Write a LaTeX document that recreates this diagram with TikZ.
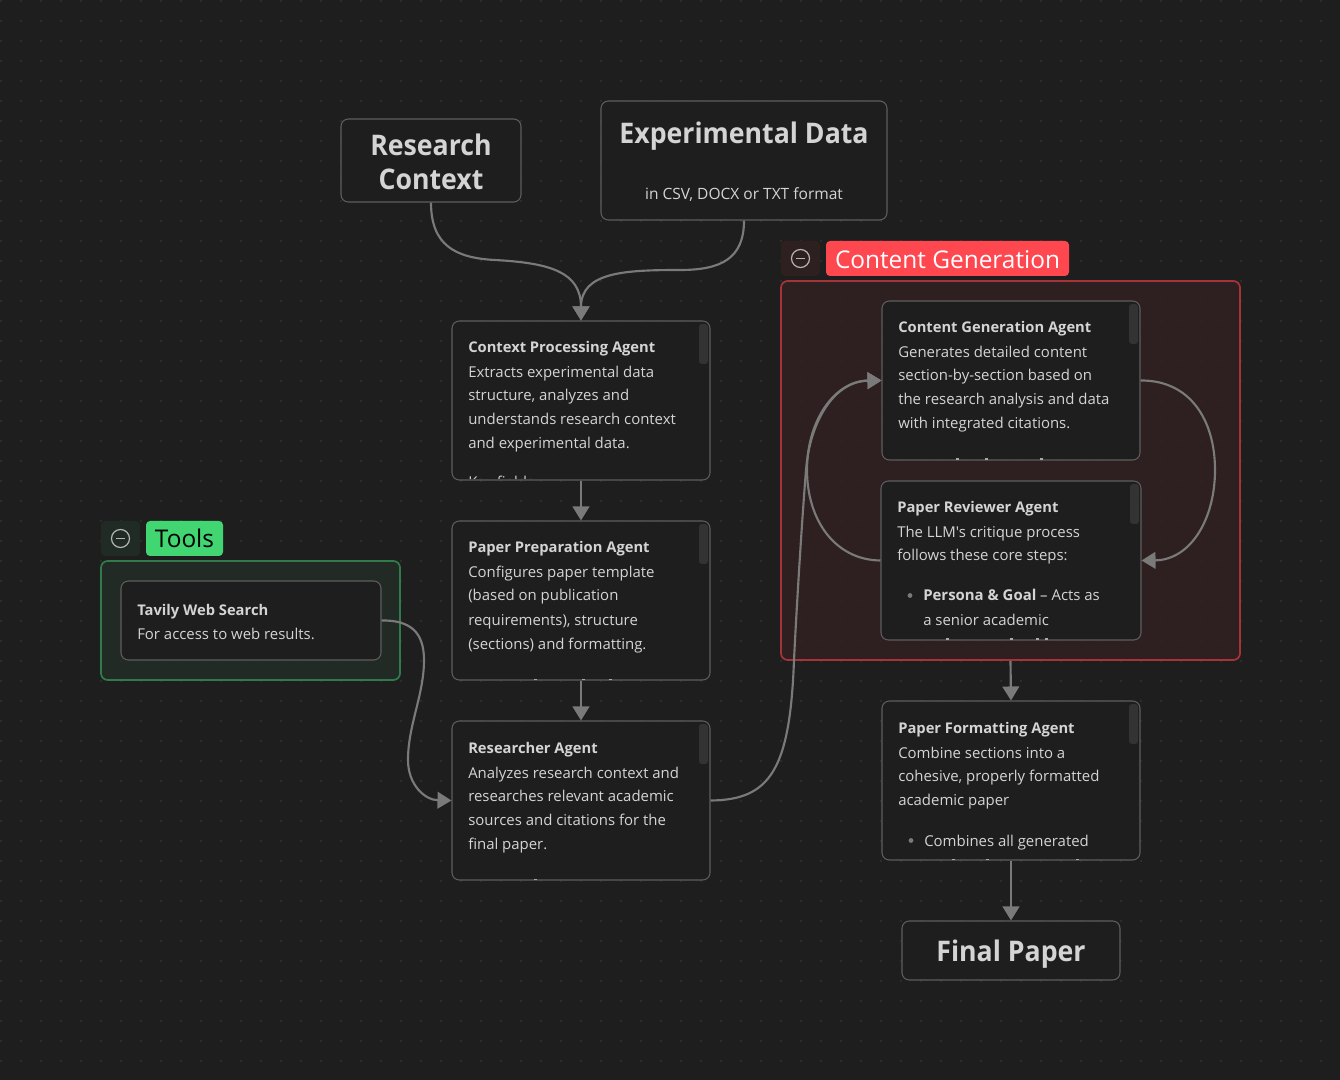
\documentclass[tikz,border=0pt]{standalone}
\usepackage{fontspec}
\setmainfont{Open Sans}[Ligatures=TeXOff]
\newfontfamily\bigfam{Open Sans}[FakeStretch=0.94,Ligatures=TeXOff]
\usetikzlibrary{arrows.meta}
\definecolor{bgc}{HTML}{1E1E1E}
\definecolor{dotc}{HTML}{3C3C3C}
\definecolor{boxline}{HTML}{5E5E5E}
\definecolor{txt}{HTML}{D4D4D4}
\definecolor{edge}{HTML}{7A7A7A}
\definecolor{scrollc}{HTML}{333333}
\definecolor{redfill}{HTML}{332121}
\definecolor{redline}{HTML}{A5343A}
\definecolor{redlab}{HTML}{FF474F}
\definecolor{redicon}{HTML}{2F2020}
\definecolor{greenfill}{HTML}{222E27}
\definecolor{greenline}{HTML}{317A49}
\definecolor{greenlab}{HTML}{41D671}
\definecolor{greenicon}{HTML}{212B25}
\newcommand{\bodyfont}{\fontsize{11.2pt}{14pt}\selectfont}
\newcommand{\titlefont}{\fontsize{11.05pt}{14pt}\selectfont\bfseries}
\newcommand{\bigfont}{\bigfam\fontsize{21.3pt}{25.5pt}\selectfont\bfseries}
\newcommand{\agent}[5]{%
  % #1 name, #2 x left, #3 y top, #4 x right, #5 y bottom
  \node[boxnode, minimum width={(#4-#2)*0.75pt}, minimum height={(#5-#3)*0.75pt}] (#1) at ({(#2+#4)/2},{(#3+#5)/2}) {};
  \fill[scrollc, rounded corners=2.2pt] ({#4-11},{#3+3}) rectangle ({#4-2},{#3+43});
}
\newcommand{\ticks}[2]{\foreach \t in {#2}{\fill[txt!80!black] ({\t-1.5},{#1-1.5}) rectangle ({\t+1.5},{#1+0.2});}}
\tikzset{
  x=0.75pt, y=-0.75pt,
  boxnode/.style={draw=boxline, fill=bgc, line width=0.8pt, rounded corners=5.5pt, inner sep=0pt},
  titlenode/.style={anchor=base west, inner sep=0pt, text=txt, font=\titlefont},
  linenode/.style={anchor=base west, inner sep=0pt, text=txt, font=\bodyfont},
  bignode/.style={inner sep=0pt, text=txt, align=center, font=\bigfont},
  conn/.style={draw=edge, line width=1.6pt},
  arrowconn/.style={conn, -{Triangle[length=10.5pt,width=12.5pt]}},
  groupfill/.style={line width=1.3pt, rounded corners=5pt},
  iconbox/.style={rounded corners=3pt, inner sep=0pt, minimum width=29.25pt, minimum height=26.25pt},
  grouplabel/.style={rounded corners=3pt, inner sep=0pt, minimum height=26.25pt, font=\fontsize{18.3pt}{24pt}\selectfont},
  iconring/.style={circle, draw=txt!85!black, line width=0.9pt, minimum size=13.5pt, inner sep=0pt},
}
\begin{document}
\begin{tikzpicture}
\useasboundingbox (0,0) rectangle (1340,1080);
\fill[bgc] (0,0) rectangle (1340,1080);
\foreach \i in {0,...,66}{\foreach \j in {0,...,53}{
  \fill[dotc] ({1+20*\i},{1+20*\j}) circle[radius=0.7pt];}}

% groups
\node[groupfill, draw=redline, fill=redfill, fill opacity=0.8, minimum width={459*0.75pt}, minimum height={379*0.75pt}, inner sep=0pt] (cg) at (1010.5,470.5) {};
\node[iconbox, fill=redicon] (cgicon) at (800.5,258.5) {};
\node[iconring] (cgring) at (800.5,258.5) {};
\draw[txt!85!black, line width=0.9pt] ([xshift=-3.5pt]cgring.center) -- ([xshift=3.5pt]cgring.center);
\node[grouplabel, fill=redlab, text=white, minimum width={243*0.75pt}, text depth=0pt] (cglab) at (947.5,258.5) {\raisebox{-1.3pt}{Content Generation}};

\node[groupfill, draw=greenline, fill=greenfill, fill opacity=0.8, minimum width={299*0.75pt}, minimum height={119*0.75pt}, inner sep=0pt] (tg) at (250.5,620.5) {};
\node[iconbox, fill=greenicon] (tgicon) at (120.5,538.5) {};
\node[iconring] (tgring) at (120.5,538.5) {};
\draw[txt!85!black, line width=0.9pt] ([xshift=-3.5pt]tgring.center) -- ([xshift=3.5pt]tgring.center);
\node[grouplabel, fill=greenlab, text=black, minimum width={77*0.75pt}] (tglab) at (184.5,538.5) {Tools};

% big nodes
\node[boxnode, minimum width={180*0.75pt}, minimum height={83*0.75pt}] (rc) at (431,160.5) {};
\node[bignode] (rct) at (431,162) {Research\\Context};
\node[boxnode, minimum width={286*0.75pt}, minimum height={119*0.75pt}] (ed) at (744,160.5) {};
\node[bignode] (edt) at (744,136.5) {Experimental Data};
\node[inner sep=0pt, text=txt, font=\fontsize{11.65pt}{14pt}\selectfont] (eds) at (744,195) {in CSV, DOCX or TXT format};
\node[boxnode, minimum width={218*0.75pt}, minimum height={59*0.75pt}] (fp) at (1011,950.5) {};
\node[bignode] (fpt) at (1011,954) {Final Paper};

% tavily
\node[boxnode, minimum width={260*0.75pt}, minimum height={79*0.75pt}] (tv) at (251,620.5) {};
\node[titlenode] (tv1) at (137,615) {Tavily Web Search};
\node[linenode] (tv2) at (137,639) {For access to web results.};

% agents
\agent{cp}{452}{321}{710}{480}
\begin{scope}
\clip (453,322) rectangle (709,479);
\node[titlenode] (cp1) at (468,353) {Context Processing Agent};
\node[linenode] (cp2) at (468,378) {Extracts experimental data};
\node[linenode] (cp3) at (468,401) {structure, analyzes and};
\node[linenode] (cp4) at (468,425) {understands research context};
\node[linenode] (cp5) at (468,449) {and experimental data.};
\node[linenode] (cp6) at (468,488) {Key fields};
\end{scope}

\agent{pp}{452}{521}{710}{680}
\begin{scope}
\clip (453,522) rectangle (709,679);
\node[titlenode] (pp1) at (468,553) {Paper Preparation Agent};
\node[linenode] (pp2) at (468,578) {Configures paper template};
\node[linenode] (pp3) at (468,601) {(based on publication};
\node[linenode] (pp4) at (468,625) {requirements), structure};
\node[linenode] (pp5) at (468,649) {(sections) and formatting.};
\end{scope}
\ticks{680}{535,583,610}

\agent{ra}{452}{721}{710}{880}
\begin{scope}
\clip (453,722) rectangle (709,879);
\node[titlenode] (ra1) at (468,753) {Researcher Agent};
\node[linenode] (ra2) at (468,778) {Analyzes research context and};
\node[linenode] (ra3) at (468,801) {researches relevant academic};
\node[linenode] (ra4) at (468,825) {sources and citations for the};
\node[linenode] (ra5) at (468,849) {final paper.};
\end{scope}
\ticks{880}{535}

\agent{ca}{882}{301}{1140}{460}
\begin{scope}
\clip (883,302) rectangle (1139,459);
\node[titlenode] (ca1) at (898,333) {Content Generation Agent};
\node[linenode] (ca2) at (898,358) {Generates detailed content};
\node[linenode] (ca3) at (898,381) {section-by-section based on};
\node[linenode] (ca4) at (898,405) {the research analysis and data};
\node[linenode] (ca5) at (898,429) {with integrated citations.};
\end{scope}
\ticks{460}{957,986,1041}

\agent{pr}{881}{481}{1141}{640}
\begin{scope}
\clip (882,482) rectangle (1140,639);
\node[titlenode] (pr1) at (897,513) {Paper Reviewer Agent};
\node[linenode] (pr2) at (897,538) {The LLM's critique process};
\node[linenode] (pr3) at (897,561) {follows these core steps:};
\fill[edge] (910,595.5) circle[radius=1.8pt];
\node[linenode] (pr4) at (923,601) {\textbf{Persona \& Goal} – Acts as};
\node[linenode] (pr5) at (923,626) {a senior academic};
\end{scope}
\ticks{640}{947,1011,1037,1046}

\agent{pf}{882}{701}{1140}{860}
\begin{scope}
\clip (883,702) rectangle (1139,859);
\node[titlenode] (pf1) at (898,733) {Paper Formatting Agent};
\node[linenode] (pf2) at (898,758) {Combine sections into a};
\node[linenode] (pf3) at (898,781) {cohesive, properly formatted};
\node[linenode] (pf4) at (898,805) {academic paper};
\fill[edge] (911,840.5) circle[radius=1.8pt];
\node[linenode] (pf5) at (924,846) {Combines all generated};
\end{scope}
\ticks{860}{953,987,1077}

% connectors
\draw[arrowconn] (rc.south) .. controls (431,245) and (455,258) .. (495,260) .. controls (550,263) and (581,272) .. (cp.north);
\draw[arrowconn] (ed.south) .. controls (744,258) and (722,270) .. (680,270) .. controls (625,270) and (581,272) .. (cp.north);
\draw[arrowconn] (cp.south) -- (pp.north);
\draw[arrowconn] (pp.south) -- (ra.north);
\draw[arrowconn] (tv.east) .. controls (410,620) and (424,632) .. (424,660) .. controls (424,695) and (408,725) .. (408,760) .. controls (408,785) and (425,800) .. (ra.west);
\draw[arrowconn] (ra.east) .. controls (770,800) and (790,770) .. (794,660) .. controls (797,600) and (802,520) .. (806,470) .. controls (810,420) and (835,381) .. (ca.west);
\draw[arrowconn] (pr.west) .. controls (835,560) and (807,520) .. (807,470) .. controls (807,420) and (835,381) .. (ca.west);
\draw[arrowconn] (ca.east) .. controls (1190,380) and (1215,420) .. (1215,470) .. controls (1215,520) and (1190,560) .. (pr.east);
\draw[arrowconn] (cg.south) -- (pf.north);
\draw[arrowconn] (pf.south) -- (fp.north);
\end{tikzpicture}
\end{document}
